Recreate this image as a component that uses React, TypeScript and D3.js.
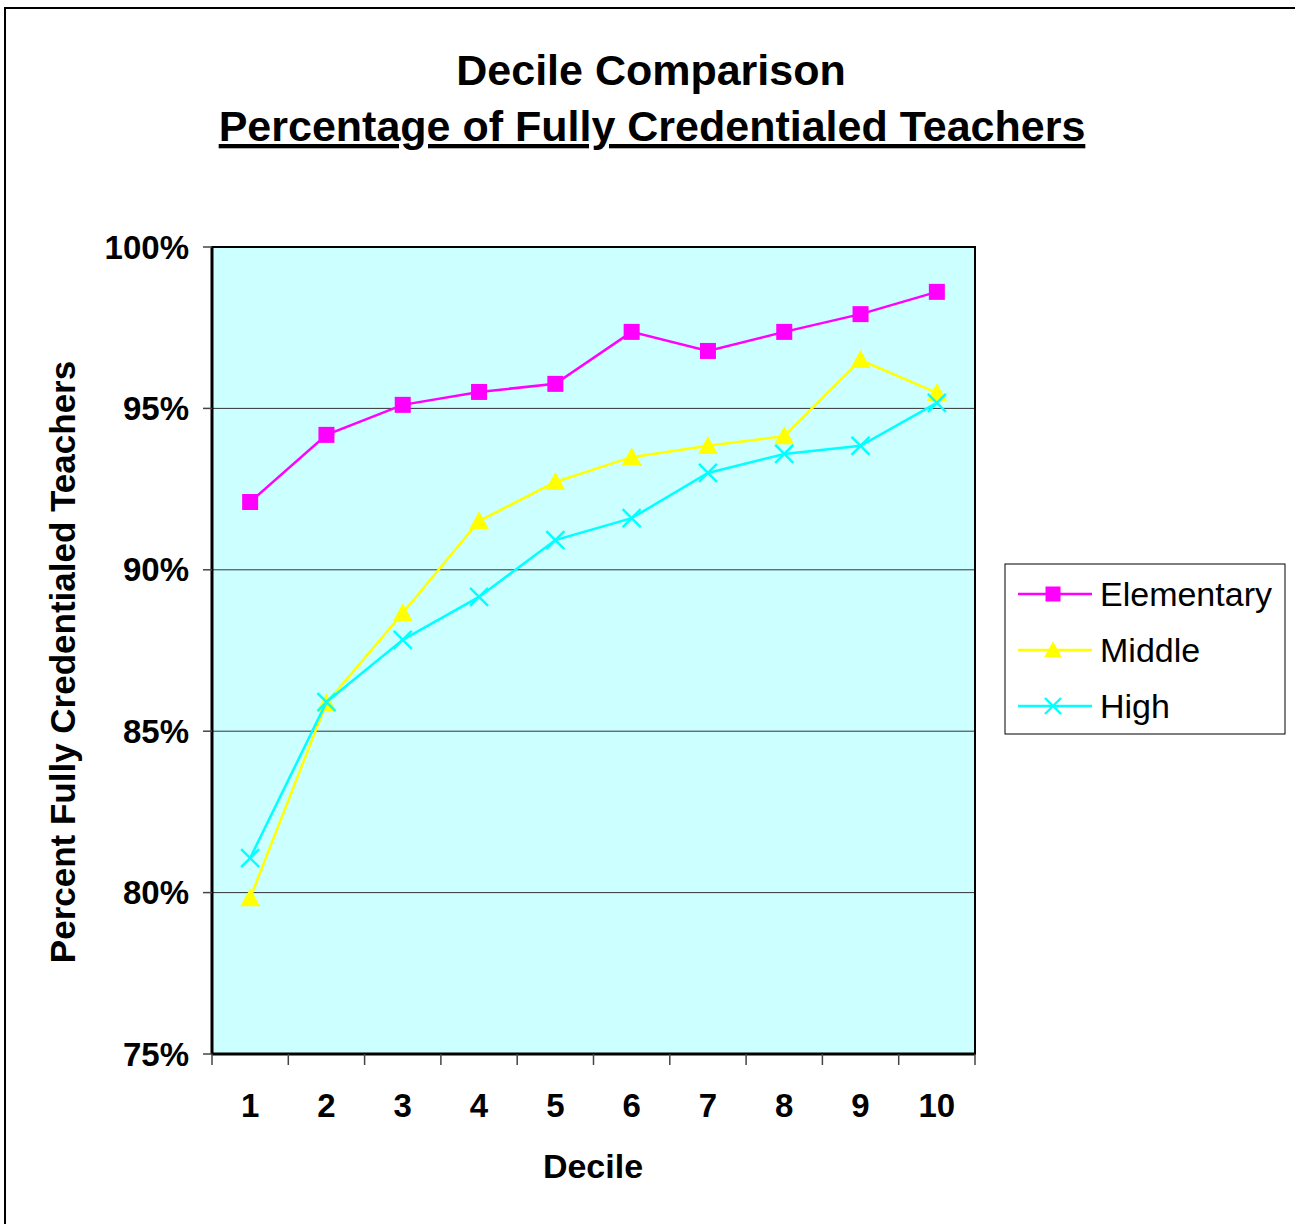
import React from "react";
import * as d3 from "d3";

const deciles = ["1", "2", "3", "4", "5", "6", "7", "8", "9", "10"];
const elementary = [92.1, 94.18, 95.11, 95.51, 95.76, 97.37, 96.78, 97.37, 97.92, 98.61];
const middle = [79.83, 85.87, 88.66, 91.51, 92.72, 93.49, 93.84, 94.14, 96.5, 95.48];
const high = [81.07, 85.9, 87.83, 89.16, 90.92, 91.6, 93.0, 93.59, 93.84, 95.17];
const yTicks = [75, 80, 85, 90, 95, 100];

const seriesList = [
  { name: "Elementary", values: elementary, color: "#FF00FF", marker: "square" },
  { name: "Middle", values: middle, color: "#FFFF00", marker: "triangle" },
  { name: "High", values: high, color: "#00FFFF", marker: "x" },
];

const W = 1295;
const H = 1224;
const plot = { left: 212, top: 247, right: 975, bottom: 1054 };
const font = "'Liberation Sans', Arial, sans-serif";

const Marker = ({ type, color, x, y, s }: { type: string; color: string; x: number; y: number; s: number }) => {
  if (type === "square") {
    return <rect x={x - s / 2} y={y - s / 2} width={s} height={s} fill={color} />;
  }
  if (type === "triangle") {
    const h = s;
    return (
      <path
        d={`M${x},${y - h * 0.55} L${x + s * 0.55},${y + h * 0.45} L${x - s * 0.55},${y + h * 0.45} Z`}
        fill={color}
      />
    );
  }
  const r = s / 2;
  return (
    <path
      d={`M${x - r},${y - r} L${x + r},${y + r} M${x - r},${y + r} L${x + r},${y - r}`}
      stroke={color}
      strokeWidth={2.4}
      fill="none"
    />
  );
};

export default function App() {
  const x = d3.scaleBand<string>().domain(deciles).range([plot.left, plot.right]);
  const y = d3.scaleLinear().domain([75, 100]).range([plot.bottom, plot.top]);
  const cx = (d: string) => (x(d) ?? 0) + x.bandwidth() / 2;
  const line = d3
    .line<number>()
    .x((_, i) => cx(deciles[i]))
    .y((v) => y(v));

  const boundaries = deciles.map((d) => x(d) ?? 0).concat([plot.right]);
  const legendRows = [594, 650, 706];

  return (
    <svg
      width={W}
      height={H}
      style={{ position: "absolute", left: 0, top: 0, display: "block", background: "#fff" }}
      fontFamily={font}
    >
      <rect x={5} y={8} width={W + 10} height={H + 10} fill="#fff" stroke="#000" strokeWidth={2} />

      <text x={651} y={85} textAnchor="middle" fontSize={43} fontWeight="bold">
        Decile Comparison
      </text>
      <text x={652} y={141} textAnchor="middle" fontSize={43} fontWeight="bold" textDecoration="underline">
        Percentage of Fully Credentialed Teachers
      </text>

      <rect
        x={plot.left}
        y={plot.top}
        width={plot.right - plot.left}
        height={plot.bottom - plot.top}
        fill="#CCFFFF"
      />
      {yTicks
        .filter((t) => t > 75 && t < 100)
        .map((t) => (
          <line key={t} x1={plot.left} x2={plot.right} y1={y(t)} y2={y(t)} stroke="#333" strokeWidth={1} />
        ))}
      <rect
        x={plot.left}
        y={plot.top}
        width={plot.right - plot.left}
        height={plot.bottom - plot.top}
        fill="none"
        stroke="#000"
        strokeWidth={2}
      />
      <line x1={plot.left} x2={plot.left} y1={plot.top} y2={plot.bottom} stroke="#000" strokeWidth={3} />
      <line x1={plot.left} x2={plot.right} y1={plot.bottom} y2={plot.bottom} stroke="#000" strokeWidth={3} />

      {yTicks.map((t) => (
        <g key={t}>
          <line x1={plot.left - 9} x2={plot.left} y1={y(t)} y2={y(t)} stroke="#444" strokeWidth={1.5} />
          <text x={189} y={y(t)} dy="0.35em" textAnchor="end" fontSize={33} fontWeight="bold">
            {t}%
          </text>
        </g>
      ))}
      {boundaries.map((b, i) => (
        <line key={i} x1={b} x2={b} y1={plot.bottom} y2={plot.bottom + 11} stroke="#444" strokeWidth={1.5} />
      ))}
      {deciles.map((d) => (
        <text key={d} x={cx(d)} y={1117} textAnchor="middle" fontSize={33} fontWeight="bold">
          {d}
        </text>
      ))}
      <text x={593} y={1178} textAnchor="middle" fontSize={34} fontWeight="bold">
        Decile
      </text>
      <text
        transform="translate(75,662) rotate(-90)"
        textAnchor="middle"
        fontSize={35}
        fontWeight="bold"
      >
        Percent Fully Credentialed Teachers
      </text>

      {seriesList.map((s) => (
        <g key={s.name}>
          <path d={line(s.values) ?? ""} fill="none" stroke={s.color} strokeWidth={2.5} />
          {s.values.map((v, i) => (
            <Marker key={i} type={s.marker} color={s.color} x={cx(deciles[i])} y={y(v)} s={s.marker === "square" ? 16 : 18} />
          ))}
        </g>
      ))}

      <rect x={1005} y={564} width={280} height={170} fill="#fff" stroke="#000" strokeWidth={1} />
      {seriesList.map((s, i) => (
        <g key={s.name}>
          <line x1={1018} x2={1092} y1={legendRows[i]} y2={legendRows[i]} stroke={s.color} strokeWidth={2.4} />
          <Marker type={s.marker} color={s.color} x={1053} y={legendRows[i]} s={s.marker === "square" ? 15 : 16} />
          <text x={1100} y={legendRows[i]} dy="0.35em" fontSize={34}>
            {s.name}
          </text>
        </g>
      ))}
    </svg>
  );
}
